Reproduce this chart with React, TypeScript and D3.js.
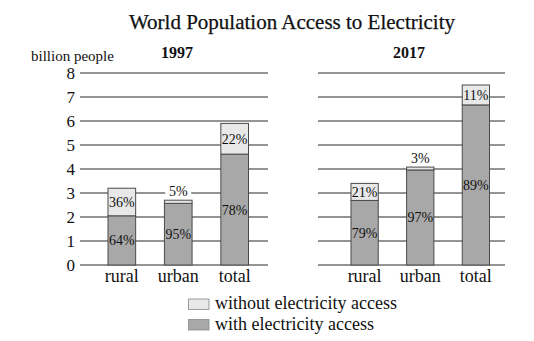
import React from "react";
import * as d3 from "d3";

const categories = ["rural", "urban", "total"];
const years = ["1997", "2017"];
// billion people with / without electricity access
const withAccess: Record<string, number[]> = {
  "1997": [2.05, 2.57, 4.62],
  "2017": [2.69, 3.96, 6.67],
};
const withoutAccess: Record<string, number[]> = {
  "1997": [1.15, 0.13, 1.28],
  "2017": [0.71, 0.12, 0.83],
};
const withPct: Record<string, string[]> = {
  "1997": ["64%", "95%", "78%"],
  "2017": ["79%", "97%", "89%"],
};
const withoutPct: Record<string, string[]> = {
  "1997": ["36%", "5%", "22%"],
  "2017": ["21%", "3%", "11%"],
};
const yTicks = [0, 1, 2, 3, 4, 5, 6, 7, 8];
const legendItems = ["without electricity access", "with electricity access"];
const title = "World Population Access to Electricity";
const yLabel = "billion people";

const FONT = "'Liberation Serif', 'Times New Roman', serif";
const C_WITH = "#a8a8a8";
const C_WITHOUT = "#e8e8e8";
const C_STROKE = "#4a4a4a";
const C_GRID = "#707070";

const panels = [
  { year: years[0], grid: [80, 268], bars: [108, 248.5], header: 177 },
  { year: years[1], grid: [318, 505], bars: [351, 489.5], header: 409 },
];

export default function App() {
  const y = d3.scaleLinear().domain([0, 8]).range([265, 73]);
  return (
    <svg
      width={534}
      height={341}
      style={{ position: "absolute", left: 0, top: 0, background: "#fff" }}
      fontFamily={FONT}
    >
      <rect x={0} y={0} width={534} height={341} fill="#fff" />
      <text x={292} y={29} textAnchor="middle" fontSize={21} fill="#111" stroke="#111" strokeWidth={0.25}>
        {title}
      </text>
      <text x={31} y={61} fontSize={15} fill="#111">
        {yLabel}
      </text>
      {yTicks.map((t) => (
        <text key={t} x={75} y={y(t) + 5.5} textAnchor="end" fontSize={17} fill="#111">
          {t}
        </text>
      ))}
      {panels.map((p) => {
        const x = d3
          .scaleBand<string>()
          .domain(categories)
          .range(p.bars as [number, number])
          .paddingInner(0.51)
          .paddingOuter(0);
        const bw = x.bandwidth();
        return (
          <g key={p.year}>
            <text x={p.header} y={58} textAnchor="middle" fontSize={16} fontWeight="bold" fill="#111">
              {p.year}
            </text>
            {yTicks.map((t) => (
              <line
                key={t}
                x1={p.grid[0]}
                x2={p.grid[1]}
                y1={y(t)}
                y2={y(t)}
                stroke={C_GRID}
                strokeWidth={1.4}
              />
            ))}
            {categories.map((c, i) => {
              const w = withAccess[p.year][i];
              const wo = withoutAccess[p.year][i];
              const x0 = x(c)!;
              const yw = y(w);
              const yt = y(w + wo);
              const small = y(w) - y(w + wo) < 12;
              const cx = x0 + bw / 2;
              return (
                <g key={c}>
                  <rect x={x0} y={yw} width={bw} height={y(0) - yw} fill={C_WITH} stroke={C_STROKE} strokeWidth={1} />
                  <rect x={x0} y={yt} width={bw} height={yw - yt} fill={C_WITHOUT} stroke={C_STROKE} strokeWidth={1} />
                  <text x={cx} y={(yw + y(0)) / 2 + 5} textAnchor="middle" fontSize={14} fill="#111">
                    {withPct[p.year][i]}
                  </text>
                  {small ? (
                    <g>
                      <rect x={cx - 13} y={yt - 16} width={26} height={14} fill="#fff" />
                      <text x={cx} y={yt - 4} textAnchor="middle" fontSize={14} fill="#111">
                        {withoutPct[p.year][i]}
                      </text>
                    </g>
                  ) : (
                    <text x={cx} y={(yw + yt) / 2 + 5} textAnchor="middle" fontSize={14} fill="#111">
                      {withoutPct[p.year][i]}
                    </text>
                  )}
                  <text x={cx} y={282} textAnchor="middle" fontSize={18} fill="#111">
                    {c}
                  </text>
                </g>
              );
            })}
          </g>
        );
      })}
      {legendItems.map((l, i) => (
        <g key={l}>
          <rect
            x={188.5}
            y={299 + i * 20.5}
            width={20.5}
            height={10.5}
            fill={i === 0 ? C_WITHOUT : C_WITH}
            stroke="#888"
            strokeWidth={0.8}
          />
          <text x={215} y={309 + i * 20.5} fontSize={18} fill="#111">
            {l}
          </text>
        </g>
      ))}
    </svg>
  );
}
